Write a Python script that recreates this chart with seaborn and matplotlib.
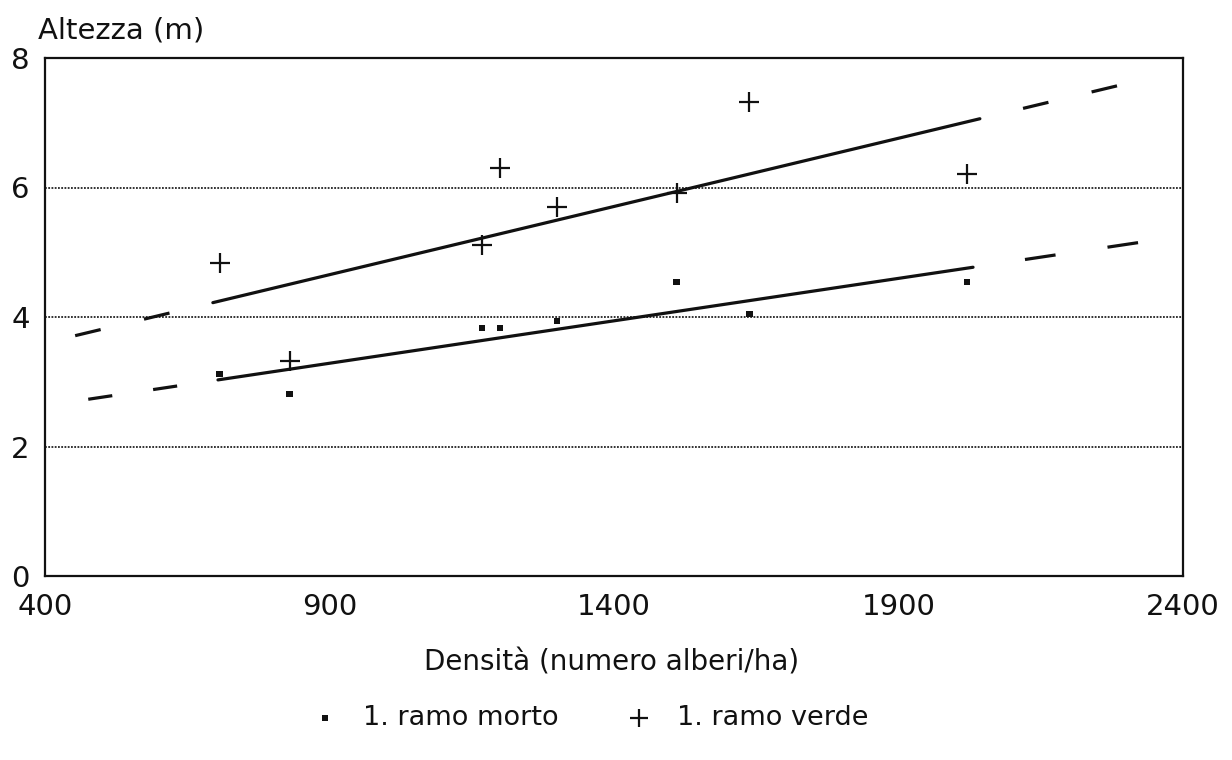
import numpy as np
import pandas as pd
import matplotlib
matplotlib.use("Agg")
import matplotlib.pyplot as plt
import seaborn as sns

# ---- data ----
densita = [707, 830, 1168, 1200, 1300, 1510, 1638, 2020]
ramo_morto = [3.12, 2.81, 3.83, 3.83, 3.94, 4.54, 4.05, 4.54]
ramo_verde = [4.83, 3.32, 5.11, 6.30, 5.70, 5.92, 7.32, 6.21]

# fitted lines: value at x=400, slope; solid range and dashed extrapolation range
verde_fit = dict(intercept=3.60, slope=0.002107, solid=(695, 2043), dashed=(453, 2284))
morto_fit = dict(intercept=2.63, slope=0.001311, solid=(704, 2031), dashed=(476, 2321))

x_ticks = [400, 900, 1400, 1900, 2400]
y_ticks = [0, 2, 4, 6, 8]
grid_y = [2, 4, 6]

sns.set_theme(style="white")
plt.rcParams["font.family"] = ["DejaVu Sans"]
plt.rcParams["text.color"] = "#111111"

DPI = 100
LW = 2.3
fig = plt.figure(figsize=(12.32, 7.6), dpi=DPI)
ax = fig.add_axes([45 / 1232, 1 - 576 / 760, (1183 - 45) / 1232, (576 - 58) / 760])
ax.set_xlim(400, 2400)
ax.set_ylim(0, 8)

df = pd.DataFrame({"x": densita, "morto": ramo_morto, "verde": ramo_verde})

# gridlines
for gy in grid_y:
    ax.axhline(gy, color="#222222", lw=1.3, ls=(0, (1, 0.8)), zorder=1)


def fit_line(fit, x0, x1):
    xs = np.array([x0, x1], dtype=float)
    ys = fit["intercept"] + fit["slope"] * (xs - 400)
    return xs, ys


def dash_style(xs, ys):
    # two dashes + two gaps fitted to the segment length (starting at outer end)
    p = ax.transData.transform(np.column_stack([xs, ys]))
    length_pt = np.hypot(*(p[1] - p[0])) * 72 / DPI
    unit = length_pt / (2 * 2.7) / LW
    return (0, (unit, 1.7 * unit))


for fit in (verde_fit, morto_fit):
    xs, ys = fit_line(fit, *fit["solid"])
    sns.lineplot(x=xs, y=ys, ax=ax, color="#111111", lw=LW, sort=False, zorder=3)
    # left extension: from outer end towards the solid part
    xs, ys = fit_line(fit, fit["dashed"][0], fit["solid"][0])
    sns.lineplot(x=xs, y=ys, ax=ax, color="#111111", lw=LW, sort=False,
                 linestyle=dash_style(xs, ys), zorder=3)
    # right extension: from outer end back towards the solid part
    xs, ys = fit_line(fit, fit["dashed"][1], fit["solid"][1])
    sns.lineplot(x=xs, y=ys, ax=ax, color="#111111", lw=LW, sort=False,
                 linestyle=dash_style(xs, ys), zorder=3)

sns.scatterplot(data=df, x="x", y="morto", ax=ax, marker="s", s=22, color="#111111",
                edgecolor="none", zorder=4, label="1. ramo morto")
sns.scatterplot(data=df, x="x", y="verde", ax=ax, marker="+", s=190, color="#111111",
                linewidth=1.6, zorder=4, label="1. ramo verde")

ax.set_xlim(400, 2400)
ax.set_ylim(0, 8)
ax.set_xticks(x_ticks)
ax.set_yticks(y_ticks)
ax.set_xticklabels([str(v) for v in x_ticks])
ax.set_yticklabels([str(v) for v in y_ticks])
ax.tick_params(axis="both", direction="in", length=9, width=1.4, colors="#111111",
               labelsize=21, labelcolor="#111111")
ax.tick_params(axis="x", pad=12)
ax.tick_params(axis="y", pad=11)
for sp in ax.spines.values():
    sp.set_color("#111111")
    sp.set_linewidth(1.6)
ax.set_xlabel("")
ax.set_ylabel("")

fig.text(38 / 1232, 1 - 30 / 760, "Altezza (m)", fontsize=21, color="#111111",
         ha="left", va="center")
fig.text(612 / 1232, 1 - 662 / 760, "Densità (numero alberi/ha)", fontsize=20,
         color="#111111", ha="center", va="center")

handles, labels = ax.get_legend_handles_labels()
if ax.legend_:
    ax.legend_.remove()
fig.legend(handles, labels, loc="center", bbox_to_anchor=(590 / 1232, 1 - 718 / 760),
           ncol=2, frameon=False, fontsize=19.5, handlelength=1.0, handletextpad=0.9,
           columnspacing=2.5, markerscale=0.9, labelcolor="#111111")

fig.savefig("out.png", dpi=DPI, facecolor="white")
